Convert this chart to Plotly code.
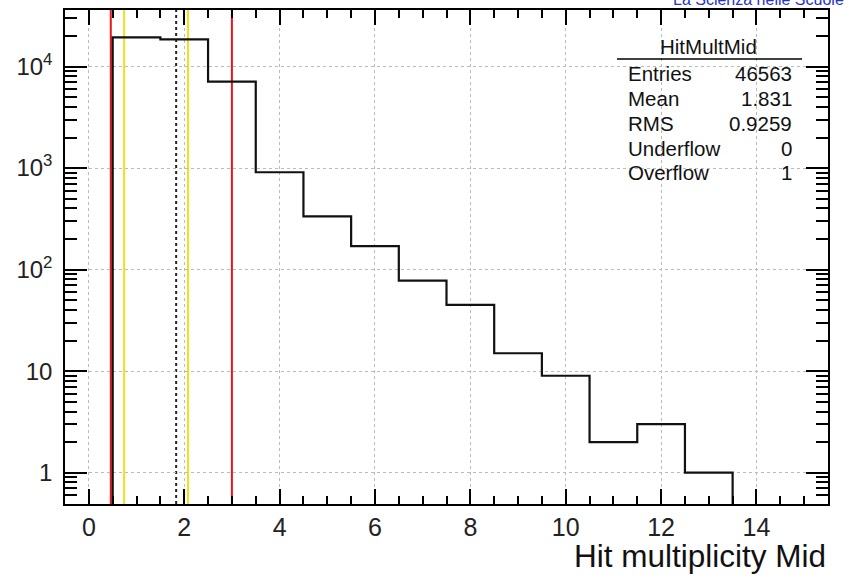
import plotly.graph_objects as go

# ---- data ----
bin_lo_edges = [0.5, 1.5, 2.5, 3.5, 4.5, 5.5, 6.5, 7.5, 8.5, 9.5, 10.5, 11.5, 12.5]
bin_counts = [19400, 18490, 7100, 910, 335, 170, 78, 45, 15, 9, 2, 3, 1]
bin_width = 1.0

red_lines = [0.46, 3.0]
yellow_lines = [0.74, 2.08]
mean_line = [1.831]

stats_title = "HitMultMid"
stats_labels = ["Entries", "Mean", "RMS", "Underflow", "Overflow"]
stats_values = ["46563", "1.831", "0.9259", "0", "1"]

y_major = [1, 10, 100, 1000, 10000]
y_major_text = ["1", "10", "10<sup>2</sup>", "10<sup>3</sup>", "10<sup>4</sup>"]
x_ticks = [0, 2, 4, 6, 8, 10, 12, 14]

# ---- layout geometry ----
W, H = 849, 580
L, R, T, B = 65, 21, 10, 76
PW = W - L - R
PH = H - T - B
FONT = "Liberation Sans, Arial, Helvetica, sans-serif"


def px(x):
    return (x - L) / PW


def py(y):
    return (H - B - y) / PH


floor = 0.01
hx = [bin_lo_edges[0]] + bin_lo_edges + [bin_lo_edges[-1] + bin_width]
hy = [floor] + bin_counts + [floor]

fig = go.Figure()
fig.add_trace(go.Scatter(x=hx, y=hy, mode="lines", line_shape="hv",
                         line=dict(color="#111111", width=2.2), showlegend=False,
                         hoverinfo="skip"))

shapes = []
for xv in red_lines:
    shapes.append(dict(type="line", xref="x", yref="paper", x0=xv, x1=xv, y0=0, y1=1,
                       layer="between", line=dict(color="#e8161c", width=2)))
for xv in yellow_lines:
    shapes.append(dict(type="line", xref="x", yref="paper", x0=xv, x1=xv, y0=0, y1=1,
                       layer="between", line=dict(color="#ece31a", width=2)))
for xv in mean_line:
    shapes.append(dict(type="line", xref="x", yref="paper", x0=xv, x1=xv, y0=0, y1=1,
                       layer="between", line=dict(color="#222233", width=2, dash="dot")))
# stats title underline
shapes.append(dict(type="line", xref="paper", yref="paper", x0=px(617), x1=px(802),
                   y0=py(59), y1=py(59), line=dict(color="black", width=1.5)))

annotations = []
annotations.append(dict(text=stats_title, xref="paper", yref="paper", x=px(708), y=py(47),
                        xanchor="center", yanchor="middle", showarrow=False,
                        font=dict(size=20.5, color="#111", family=FONT)))
row_y = [73, 98.5, 123, 148, 173]
for lab, val, yy in zip(stats_labels, stats_values, row_y):
    annotations.append(dict(text=lab, xref="paper", yref="paper", x=px(626), y=py(yy),
                            xanchor="left", yanchor="middle", showarrow=False,
                            font=dict(size=20.5, color="#111", family=FONT)))
    annotations.append(dict(text=val, xref="paper", yref="paper", x=px(794), y=py(yy),
                            xanchor="right", yanchor="middle", showarrow=False,
                            font=dict(size=20.5, color="#111", family=FONT)))
# x axis title
annotations.append(dict(text="Hit multiplicity Mid", xref="paper", yref="paper", x=px(828), y=py(556),
                        xanchor="right", yanchor="middle", showarrow=False,
                        font=dict(size=31.5, color="#111", family=FONT)))
# cut-off logo text at the top
annotations.append(dict(text="La Scienza nelle Scuole", xref="paper", yref="paper", x=px(846), y=py(0),
                        xanchor="right", yanchor="middle", showarrow=False,
                        font=dict(size=16, color="#2233cc", family=FONT)))

y_minor = []
for k in [-1, 0, 1, 2, 3, 4]:
    for m in range(2, 10):
        y_minor.append(m * 10 ** k)

fig.update_layout(
    width=W, height=H,
    margin=dict(l=L, r=R, t=T, b=B, pad=0),
    paper_bgcolor="white", plot_bgcolor="white",
    font=dict(family=FONT, color="black"),
    showlegend=False,
    shapes=shapes,
    annotations=annotations,
    xaxis=dict(range=[-0.5, 15.5], tickmode="array", tickvals=x_ticks, automargin=False,
               ticks="inside", ticklen=15, tickwidth=1.5, tickcolor="black",
               showline=True, linecolor="black", linewidth=1.5, mirror="allticks",
               showgrid=True, gridcolor="#bbbbbb", griddash="dot", gridwidth=1,
               zeroline=False, tickfont=dict(size=25, family=FONT, color="#222"),
               minor=dict(dtick=0.5, tick0=0, ticks="inside", ticklen=8, tickwidth=1.5,
                          tickcolor="black", showgrid=False)),
    yaxis=dict(type="log", range=[-0.309, 4.557], tickmode="array", tickvals=y_major,
               ticktext=y_major_text, automargin=False,
               ticks="inside", ticklen=22, tickwidth=1.5, tickcolor="black",
               showline=True, linecolor="black", linewidth=1.5, mirror="allticks",
               showgrid=True, gridcolor="#bbbbbb", griddash="dot", gridwidth=1,
               zeroline=False, tickfont=dict(size=24, family=FONT, color="#222"),
               ticklabelstandoff=6,
               minor=dict(tickmode="array", tickvals=y_minor, ticks="inside", ticklen=12,
                          tickwidth=1.5, tickcolor="black", showgrid=False)),
)

fig.write_html("out.html", config={"displayModeBar": False},
               post_script="document.body.style.margin='0';document.body.style.overflow='hidden';")
